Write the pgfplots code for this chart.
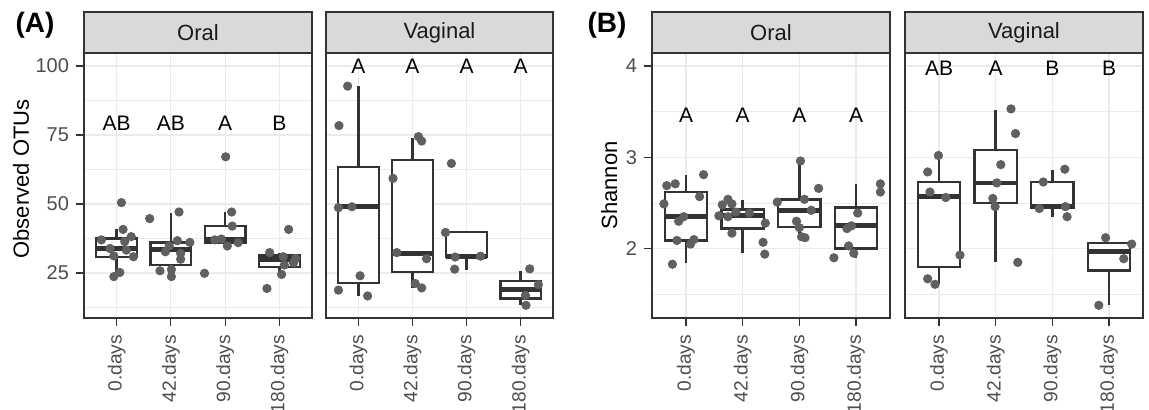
\documentclass[border=0pt]{standalone}
\usepackage{pgfplots}
\pgfplotsset{compat=1.18}
\usepgfplotslibrary{statistics}
\usepackage{fontspec}
\setmainfont{Liberation Sans}

\definecolor{border}{RGB}{51,51,51}
\definecolor{gridgray}{RGB}{235,235,235}
\definecolor{stripgray}{RGB}{217,217,217}
\definecolor{tickgray}{RGB}{77,77,77}
\definecolor{ptgray}{RGB}{96,96,96}

\pgfplotsset{
  facet/.style={
    scale only axis, height=132.5pt,
    xmin=0.4, xmax=4.6,
    xtick={1,2,3,4}, xticklabels={0.days,42.days,90.days,180.days},
    x tick label style={rotate=90, anchor=east, font=\fontsize{9.6}{11}\selectfont, text=tickgray},
    xticklabel shift=1pt,
    y tick label style={font=\fontsize{10}{12}\selectfont, text=tickgray},
    /pgf/number format/assume math mode=true,
    xmajorgrids, ymajorgrids, yminorgrids,
    major grid style={draw=gridgray, line width=0.6pt},
    minor grid style={draw=gridgray, line width=0.35pt},
    axis line style={draw=border, line width=0.6pt},
    tick style={draw=border, line width=0.6pt},
    tick align=outside, major tick length=4pt, minor tick length=0pt,
    xtick pos=bottom, ytick pos=left,
    clip=false,
  },
  novert/.style={yticklabels={}, ytick style={draw=none}},
  boxstyle/.style={draw=border, fill=white, line width=1.2pt,
    boxplot/draw direction=y,
    boxplot/box extend=0.75, boxplot/whisker extend=0,
    boxplot/every median/.style={line width=2.4pt}},
  pts/.style={only marks, mark=*, mark size=2.1pt, color=ptgray},
}
\newcommand{\gbox}[6]{\addplot[boxstyle, boxplot prepared={draw position=#1, lower whisker=#2, lower quartile=#3, median=#4, upper quartile=#5, upper whisker=#6}] coordinates {};}
\newcommand{\strip}[1]{%
  \draw[fill=stripgray, draw=border, line width=0.6pt] (rel axis cs:0,1) rectangle ([yshift=20.5pt]rel axis cs:1,1);
  \node[font=\fontsize{11}{13}\selectfont, text={rgb,255:red,26;green,26;blue,26}] at ([yshift=10.25pt]rel axis cs:0.5,1) {#1};}

\begin{document}
\begin{tikzpicture}
\useasboundingbox (0,0) rectangle (574.5pt,204.5pt);

% (A) Observed OTUs, Oral
\begin{axis}[facet, width=114pt, at={(42pt,45.5pt)}, anchor=south west,
  ymin=8.7, ymax=104.7, ytick={25,50,75,100}, minor ytick={12.5,37.5,62.5,87.5}]
\gbox{1}{23.7}{30.9}{33.9}{37.5}{40.8}
\gbox{2}{23.7}{27.9}{33.6}{36.0}{46.9}
\gbox{3}{34.8}{35.8}{37.0}{42.0}{47.1}
\gbox{4}{24.4}{27.2}{30.0}{31.3}{32.4}
\addplot[pts] coordinates {
(1.09,50.5)(1.12,40.8)(1.27,38.2)(0.72,37.0)(1.15,36.4)(0.88,33.9)(1.18,33.3)(0.95,31.2)(1.31,30.9)(1.06,25.2)(0.95,23.7)
(1.61,44.7)(2.15,47.1)(2.35,36.1)(2.12,36.7)(1.97,34.8)(1.90,32.7)(2.18,32.1)(2.18,30.0)(1.80,25.8)(2.01,26.3)(2.01,23.7)
(3.01,67.1)(3.12,47.1)(3.13,42.0)(2.81,37.0)(2.93,37.3)(3.04,34.8)(3.24,36.0)(2.62,24.9)
(4.17,40.8)(3.82,32.4)(4.07,30.9)(4.30,30.3)(4.09,27.9)(4.26,28.7)(4.04,24.5)(3.77,19.4)
};
\strip{Oral}
\node[font=\fontsize{10.5}{12}\selectfont] at (axis cs:1,79.2) {AB};
\node[font=\fontsize{10.5}{12}\selectfont] at (axis cs:2,79.2) {AB};
\node[font=\fontsize{10.5}{12}\selectfont] at (axis cs:3,79.2) {A};
\node[font=\fontsize{10.5}{12}\selectfont] at (axis cs:4,79.2) {B};
\node[rotate=90, font=\fontsize{11}{13}\selectfont] at ([xshift=-31.5pt]rel axis cs:0,0.525) {Observed OTUs};
\end{axis}

% (A) Observed OTUs, Vaginal
\begin{axis}[facet, novert, width=113.5pt, at={(163pt,45.5pt)}, anchor=south west,
  ymin=8.7, ymax=104.7, ytick={25,50,75,100}, minor ytick={12.5,37.5,62.5,87.5}]
\gbox{1}{16.7}{21.4}{49.0}{63.5}{92.7}
\gbox{2}{19.6}{25.4}{32.1}{65.9}{73.8}
\gbox{3}{26.2}{30.8}{31.0}{39.9}{39.9}
\gbox{4}{13.3}{15.7}{19.0}{22.1}{25.8}
\addplot[pts] coordinates {
(0.80,92.7)(0.64,78.4)(0.63,48.7)(0.88,49.0)(1.03,24.0)(0.63,18.8)(1.17,16.7)
(2.11,74.4)(2.17,72.8)(1.64,59.3)(1.71,32.4)(2.26,30.2)(2.05,21.2)(2.17,19.6)
(2.72,64.7)(2.61,39.7)(2.79,30.8)(3.26,31.1)(2.78,26.4)
(4.17,26.5)(4.33,20.8)(4.09,16.9)(4.10,13.3)
};
\strip{Vaginal}
\node[font=\fontsize{10.5}{12}\selectfont] at (axis cs:1,99.8) {A};
\node[font=\fontsize{10.5}{12}\selectfont] at (axis cs:2,99.8) {A};
\node[font=\fontsize{10.5}{12}\selectfont] at (axis cs:3,99.8) {A};
\node[font=\fontsize{10.5}{12}\selectfont] at (axis cs:4,99.8) {A};
\end{axis}

% (B) Shannon, Oral
\begin{axis}[facet, width=119pt, at={(326pt,45.5pt)}, anchor=south west,
  ymin=1.241, ymax=4.142, ytick={2,3,4}, minor ytick={1.5,2.5,3.5}]
\gbox{1}{1.84}{2.09}{2.35}{2.62}{2.81}
\gbox{2}{1.95}{2.22}{2.36}{2.43}{2.53}
\gbox{3}{2.12}{2.24}{2.42}{2.54}{2.96}
\gbox{4}{1.90}{2.00}{2.25}{2.45}{2.71}
\addplot[pts] coordinates {
(1.31,2.81)(0.66,2.69)(0.81,2.71)(0.61,2.49)(1.24,2.57)(0.96,2.35)(0.87,2.30)(0.84,2.09)(1.14,2.10)(1.08,2.05)(0.76,1.83)
(1.74,2.54)(1.64,2.48)(1.81,2.49)(1.58,2.36)(1.74,2.35)(1.88,2.40)(2.12,2.39)(2.40,2.28)(1.81,2.17)(2.36,2.07)(2.39,1.94)
(3.02,2.96)(3.34,2.66)(3.09,2.54)(2.61,2.51)(3.21,2.42)(2.95,2.30)(3.00,2.23)(3.04,2.13)(3.10,2.12)
(4.43,2.71)(4.43,2.62)(4.03,2.39)(3.92,2.25)(3.84,2.22)(3.87,2.03)(3.96,1.95)(3.61,1.90)
};
\strip{Oral}
\node[font=\fontsize{10.5}{12}\selectfont] at (axis cs:1,3.465) {A};
\node[font=\fontsize{10.5}{12}\selectfont] at (axis cs:2,3.465) {A};
\node[font=\fontsize{10.5}{12}\selectfont] at (axis cs:3,3.465) {A};
\node[font=\fontsize{10.5}{12}\selectfont] at (axis cs:4,3.465) {A};
\node[rotate=90, font=\fontsize{11}{13}\selectfont] at ([xshift=-21.4pt]rel axis cs:0,0.5) {Shannon};
\end{axis}

% (B) Shannon, Vaginal
\begin{axis}[facet, novert, width=119pt, at={(452.5pt,45.5pt)}, anchor=south west,
  ymin=1.241, ymax=4.142, ytick={2,3,4}, minor ytick={1.5,2.5,3.5}]
\gbox{1}{1.61}{1.80}{2.57}{2.73}{3.02}
\gbox{2}{1.85}{2.50}{2.72}{3.08}{3.52}
\gbox{3}{2.35}{2.45}{2.46}{2.73}{2.86}
\gbox{4}{1.38}{1.76}{1.97}{2.06}{2.06}
\addplot[pts] coordinates {
(0.99,3.02)(0.80,2.84)(0.84,2.62)(1.12,2.56)(1.37,1.93)(0.80,1.67)(0.93,1.61)
(2.27,3.53)(2.35,3.26)(2.09,2.92)(2.02,2.72)(1.95,2.55)(1.99,2.46)(2.39,1.85)
(3.22,2.87)(2.84,2.73)(2.77,2.44)(3.23,2.46)(3.26,2.35)
(3.94,2.12)(4.40,2.05)(4.26,1.89)(3.82,1.38)
};
\strip{Vaginal}
\node[font=\fontsize{10.5}{12}\selectfont] at (axis cs:1,3.975) {AB};
\node[font=\fontsize{10.5}{12}\selectfont] at (axis cs:2,3.975) {A};
\node[font=\fontsize{10.5}{12}\selectfont] at (axis cs:3,3.975) {B};
\node[font=\fontsize{10.5}{12}\selectfont] at (axis cs:4,3.975) {B};
\end{axis}

\node[font=\bfseries\fontsize{14}{16}\selectfont] at (17.5pt,192pt) {(A)};
\node[font=\bfseries\fontsize{14}{16}\selectfont] at (303.5pt,192pt) {(B)};
\end{tikzpicture}
\end{document}
